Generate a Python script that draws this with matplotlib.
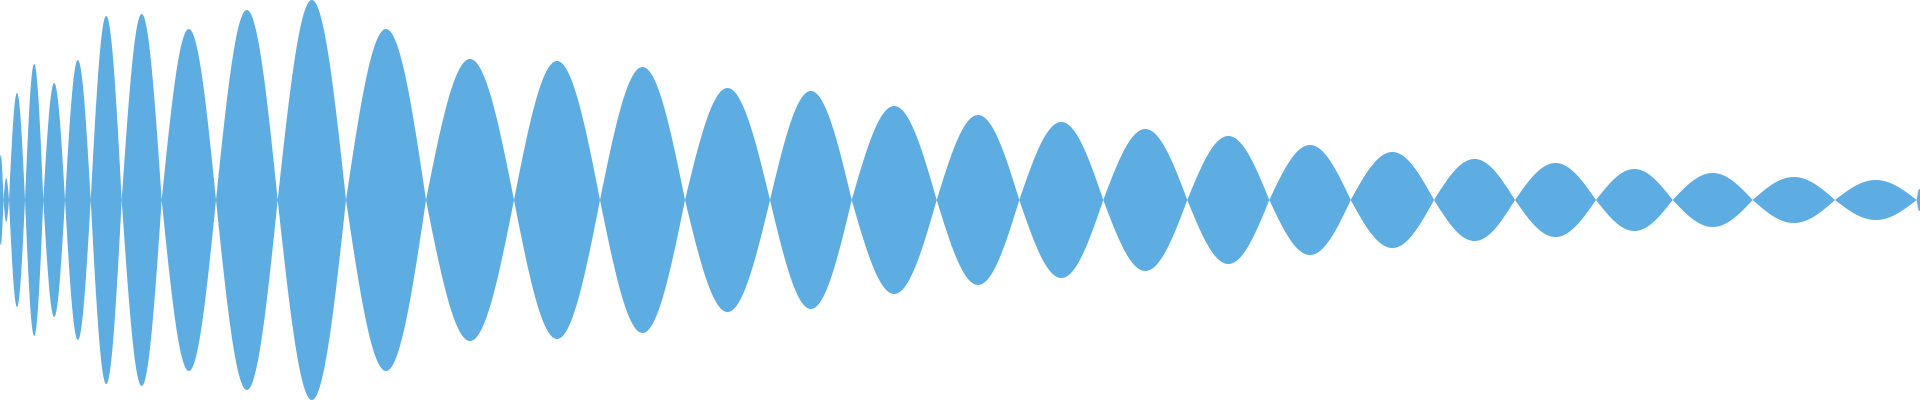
import numpy as np
import matplotlib
matplotlib.use("Agg")
import matplotlib.pyplot as plt

# zero crossings of the waveform envelope (x in sample units, 0..1920)
crossings = [-2, 3.5, 9, 25, 43.3, 65, 90.7, 121.7, 161.7, 216, 277.7, 346,
             426, 514, 600, 685, 770, 851.7, 936.7, 1019.3, 1103.3, 1187.3,
             1269.3, 1350.7, 1434, 1515, 1596, 1672.7, 1752.7, 1835, 1916.7, 1922]

# peak amplitude of each lobe between two crossings
peaks = [45, 22, 107, 136, 117, 140, 184, 186, 171, 190, 200, 171,
         141, 139, 133, 112, 109, 94, 85, 78, 71, 64,
         55, 48, 41, 37, 31, 27, 23, 20, 11]

fill_color = "#5DADE2"

xs = []
env = []
for i, h in enumerate(peaks):
    x0, x1 = crossings[i], crossings[i + 1]
    t = np.linspace(0, 1, 120)
    xs.append(x0 + (x1 - x0) * t)
    env.append(h * np.sin(np.pi * t))
xs = np.concatenate(xs)
env = np.concatenate(env)

fig = plt.figure(figsize=(19.2, 4), dpi=100)
ax = fig.add_axes([0, 0, 1, 1])
ax.fill_between(xs, -env, env, color=fill_color, linewidth=0)
ax.set_xlim(0, 1920)
ax.set_ylim(-200, 200)
ax.axis("off")

fig.savefig("out.png", dpi=100, facecolor="white")
